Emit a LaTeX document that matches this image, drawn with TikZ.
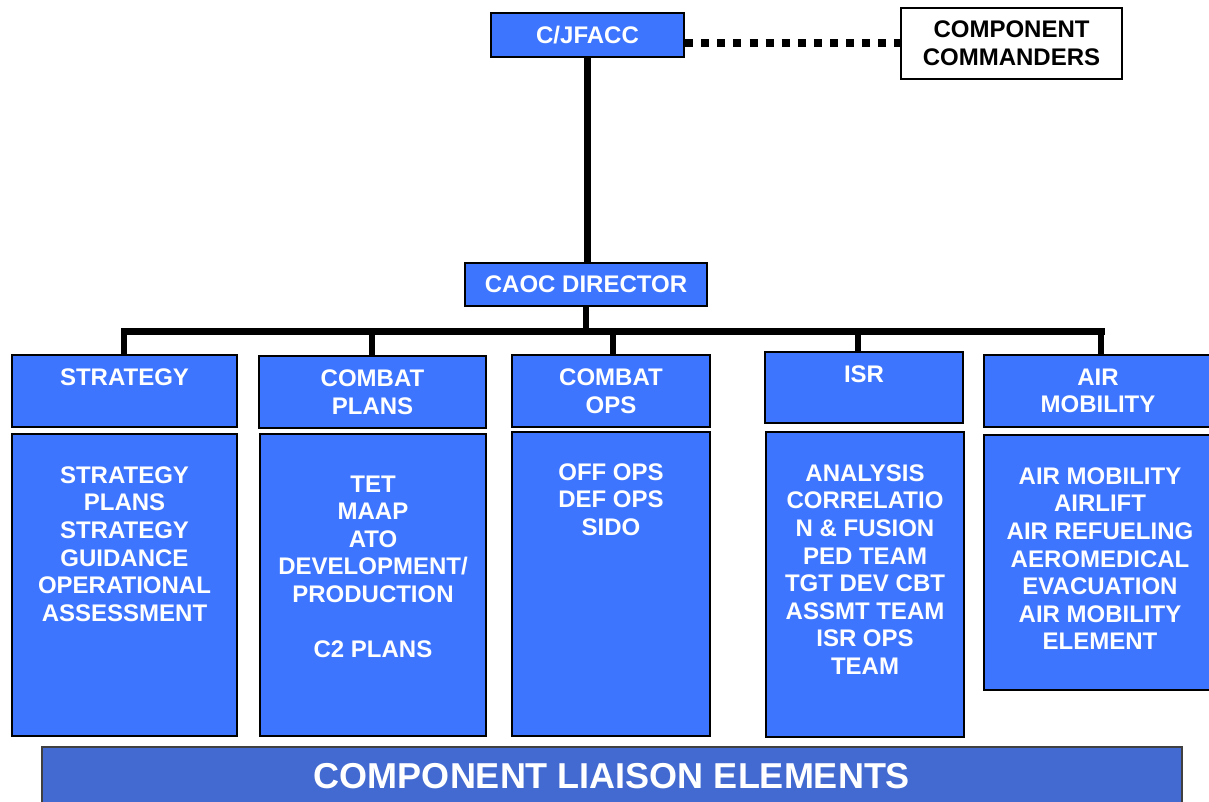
\documentclass[tikz,border=0pt]{standalone}
\usepackage{fontspec}
\setmainfont{Liberation Sans}
\definecolor{boxblue}{RGB}{61,117,255}
\definecolor{bannerblue}{RGB}{66,106,208}
\begin{document}
\begin{tikzpicture}[x=1pt,y=-1pt,
  txt/.style={font=\bfseries\fontsize{24}{27.6}\selectfont, text=white, align=center, inner sep=0pt},
  box/.style={draw=black, line width=2.2pt, fill=boxblue, inner sep=0pt, txt},
  conn/.style={line width=6.5pt, draw=black},
  dotline/.style={line width=8pt, draw=black, dash pattern=on 8pt off 8.1pt},
]
\useasboundingbox (0,0) rectangle (1209,802);

% top
\node[box, minimum width=193pt, minimum height=44pt] (jfacc) at (587.5,35) {C/JFACC};
\node[box, fill=white, text=black, minimum width=221pt, minimum height=71pt] (cc) at (1011.5,43.5) {COMPONENT\\COMMANDERS};
\node[box, minimum width=242pt, minimum height=43pt] (caoc) at (586,284.5) {CAOC DIRECTOR};

% headers
\node[box, minimum width=225pt, minimum height=72pt] (hstrat) at (124.5,391) {STRATEGY\\\vphantom{A}};
\node[box, minimum width=227pt, minimum height=72pt] (hplans) at (372.5,392) {COMBAT\\PLANS};
\node[box, minimum width=198pt, minimum height=72pt] (hops) at (611,391) {COMBAT\\OPS};
\node[box, minimum width=198pt, minimum height=71pt] (hisr) at (864,387.5) {ISR\\\vphantom{A}};
\node[box, minimum width=228pt, minimum height=72pt] (hair) at (1098,391) {AIR\\MOBILITY};

% bodies
\node[box, minimum width=225pt, minimum height=302pt] (bstrat) at (124.5,585) {};
\node[box, minimum width=226pt, minimum height=302pt] (bplans) at (373,585) {};
\node[box, minimum width=198pt, minimum height=304pt] (bops) at (611,584) {};
\node[box, minimum width=198pt, minimum height=305pt] (bisr) at (865,584.5) {};
\node[box, minimum width=228pt, minimum height=255pt] (bair) at (1098,562.5) {};

\node[txt, anchor=north] (tstrat) at (124.5,466.4) {STRATEGY\\PLANS\\STRATEGY\\GUIDANCE\\OPERATIONAL\\ASSESSMENT};
\node[txt, anchor=north] (tplans) at (373,475.4) {TET\\MAAP\\ATO\\DEVELOPMENT/\\PRODUCTION\\[27.6pt]C2 PLANS};
\node[txt, anchor=north] (tops) at (611,463.4) {OFF OPS\\DEF OPS\\SIDO};
\node[txt, anchor=north] (tisr) at (865,464.4) {ANALYSIS\\CORRELATIO\\N \& FUSION\\PED TEAM\\TGT DEV CBT\\ASSMT TEAM\\ISR OPS\\TEAM};
\node[txt, anchor=north] (tair) at (1100,467.4) {AIR MOBILITY\\AIRLIFT\\AIR REFUELING\\AEROMEDICAL\\EVACUATION\\AIR MOBILITY\\ELEMENT};

% banner
\node[draw=black!75, line width=1.5pt, fill=bannerblue, txt, font=\bfseries\fontsize{36}{40}\selectfont,
      minimum width=1140pt, minimum height=58pt] (cle) at (612,776) {COMPONENT LIAISON ELEMENTS};

% connectors
\coordinate (b1) at (124,331);
\coordinate (b2) at (372,331);
\coordinate (bc) at (586,331);
\coordinate (b3) at (613,331);
\coordinate (b4) at (858,331);
\coordinate (b5) at (1101,331);

\draw[dotline] (cc.west -| jfacc.east) -- (cc.west);
\draw[conn] (jfacc.south) -- (jfacc.south |- caoc.north);
\draw[conn] (caoc.south) -- (caoc.south |- bc);
\draw[conn, line width=7pt, line cap=rect] (b1) -- (b5);
\draw[conn] (b1) -- (b1 |- hstrat.north);
\draw[conn] (b2) -- (b2 |- hplans.north);
\draw[conn] (b3) -- (b3 |- hops.north);
\draw[conn] (b4) -- (b4 |- hisr.north);
\draw[conn] (b5) -- (b5 |- hair.north);
\end{tikzpicture}
\end{document}
